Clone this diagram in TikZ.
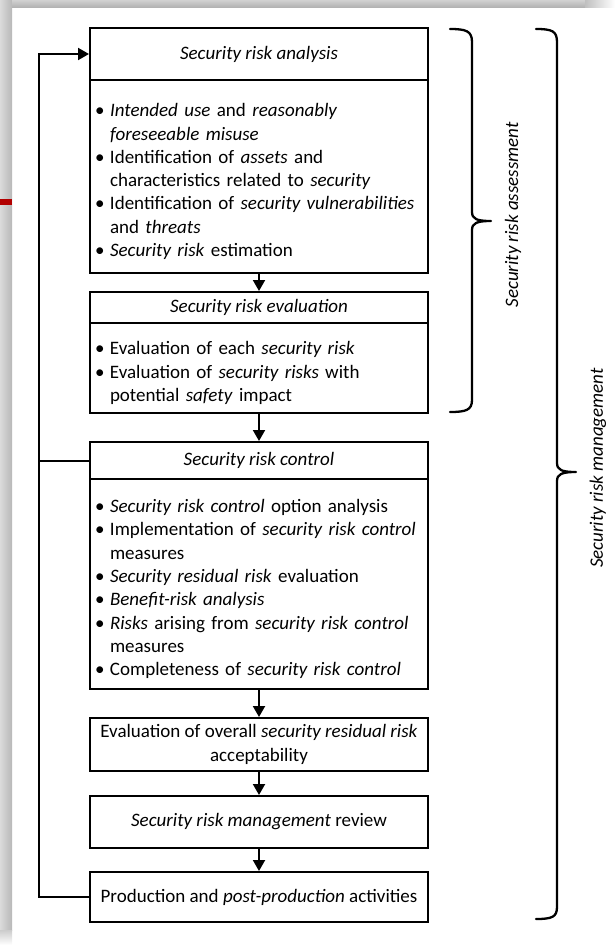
\documentclass[tikz,border=0pt]{standalone}
\usepackage{fontspec}
\setmainfont{Carlito}
\usetikzlibrary{arrows.meta}
\newcommand{\bitem}{\par\hangindent=15pt\hangafter=1\noindent\makebox[15pt][l]{\textbullet}}
\begin{document}
\begin{tikzpicture}[x=1pt,y=-1pt,
  box/.style={draw,line width=2pt,minimum width=338pt,inner sep=0pt,anchor=center},
  hdr/.style={box,font=\fontsize{19}{23.3}\selectfont\itshape},
  plain/.style={box,align=center,font=\fontsize{19}{23.3}\selectfont},
  body/.style={box,align=left,text width=328pt,font=\fontsize{19}{23.3}\selectfont},
  arr/.style={line width=2pt,-{Triangle[length=11pt,width=12pt]}},
  conn/.style={line width=2pt},
  brace/.style={line width=2.3pt,line cap=round,line join=round},
  side/.style={rotate=90,font=\fontsize{19}{22}\selectfont\itshape}]
\useasboundingbox (0,0) rectangle (615,945);
% window frame
\shade[left color=black!14,right color=black!28] (0,0) rectangle (12,930);
\shade[top color=black!18,bottom color=black!30] (12,0) rectangle (585,7);
\shade[left color=black!25,right color=white] (585,0) rectangle (615,7);
\shade[top color=black!20,bottom color=white] (0,930) rectangle (12,945);
\fill[red!70!black] (0,199) rectangle (12,205);
% boxes
\node[hdr,minimum height=52pt] (h1) at (259,54) {Security risk analysis};
\node[body,minimum height=193pt] (b1) at (259,176.5) {%
\bitem\textit{Intended use} and \textit{reasonably}\newline\textit{foreseeable misuse}
\bitem Identification of \textit{assets} and\newline characteristics related to \textit{security}
\bitem Identification of \textit{security vulnerabilities}\newline and \textit{threats}
\bitem\textit{Security risk} estimation\par};
\node[hdr,minimum height=31pt] (h2) at (259,307.5) {Security risk evaluation};
\node[body,minimum height=90pt] (b2) at (259,368) {%
\bitem Evaluation of each \textit{security risk}
\bitem Evaluation of \textit{security risks} with\newline potential \textit{safety} impact\par};
\node[hdr,minimum height=37pt] (h3) at (259,460.5) {Security risk control};
\node[body,minimum height=210pt] (b3) at (259,584) {%
\bitem\textit{Security risk control} option analysis
\bitem Implementation of \textit{security risk control}\newline measures
\bitem\textit{Security residual risk} evaluation
\bitem\textit{Benefit-risk analysis}
\bitem\textit{Risks} arising from \textit{security risk control}\newline measures
\bitem Completeness of \textit{security risk control}\par};
\node[plain,minimum height=53pt] (b4) at (259,744.5) {Evaluation of overall \textit{security residual risk}\\acceptability};
\node[plain,minimum height=52pt] (b5) at (259,822) {\textit{Security risk management} review};
\node[plain,minimum height=50pt] (b6) at (259,897) {Production and \textit{post-production} activities};
% connectors
\draw[arr] (b1.south) -- (h2.north);
\draw[arr] (b2.south) -- (h3.north);
\draw[arr] (b3.south) -- (b4.north);
\draw[arr] (b4.south) -- (b5.north);
\draw[arr] (b5.south) -- (b6.north);
\coordinate (L) at (39,897);
\draw[arr] (b6.west) -- (L) |- (h1.west);
\draw[conn] (h3.west) -- (h3.west -| L);
% braces
\draw[brace] (450,29) .. controls (466,29) and (472,31) .. (472,42) -- (472,212)
  .. controls (472,219) and (477,221) .. (491,221)
  .. controls (477,221) and (472,223) .. (472,230) -- (472,400)
  .. controls (472,410) and (466,412) .. (450,412);
\draw[brace] (536,29) .. controls (552,29) and (557,31) .. (557,42) -- (557,463)
  .. controls (557,470) and (562,472) .. (576,472)
  .. controls (562,472) and (557,474) .. (557,481) -- (557,907)
  .. controls (557,917) and (552,919) .. (536,919);
\node[side] (sra) at (513,215) {Security risk assessment};
\node[side] (srm) at (598,468) {Security risk management};
\end{tikzpicture}
\end{document}
